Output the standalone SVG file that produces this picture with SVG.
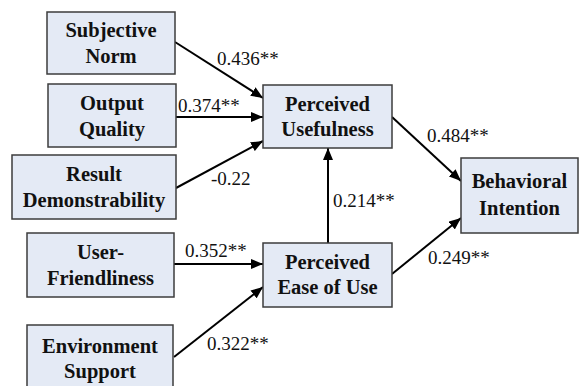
<svg xmlns="http://www.w3.org/2000/svg" width="579" height="386" viewBox="0 0 579 386">
<defs>
<marker id="ah" viewBox="0 0 12 10" refX="12" refY="5" markerWidth="12" markerHeight="10" markerUnits="userSpaceOnUse" orient="auto">
<path d="M0,0 L12,5 L0,10 Z" fill="#000"/>
</marker>
<style>
.box{fill:#e4eaf5;stroke:#3c3c3c;stroke-width:1.5}
.bt{font-family:"Liberation Serif","DejaVu Serif",serif;font-weight:bold;font-size:20.5px;text-anchor:middle;fill:#111}
.lb{font-family:"Liberation Serif","DejaVu Serif",serif;font-size:19px;fill:#111}
.ln{stroke:#000;stroke-width:2;fill:none;marker-end:url(#ah)}
</style>
</defs>
<rect width="579" height="386" fill="#fff"/>
<g id="connectors">
<line class="ln" x1="175" y1="42" x2="263" y2="98"/>
<line class="ln" x1="176" y1="117" x2="263" y2="117"/>
<line class="ln" x1="176" y1="188" x2="263" y2="141"/>
<line class="ln" x1="174" y1="264" x2="263" y2="264"/>
<line class="ln" x1="174" y1="357" x2="263" y2="287"/>
<line class="ln" x1="328" y1="243" x2="328" y2="148"/>
<line class="ln" x1="392" y1="117" x2="461" y2="181"/>
<line class="ln" x1="392" y1="274" x2="461" y2="218"/>
</g>
<g id="labels">
<text class="lb" x="217" y="65">0.436**</text>
<text class="lb" x="178" y="112">0.374**</text>
<text class="lb" x="211" y="185">-0.22</text>
<text class="lb" x="185" y="257">0.352**</text>
<text class="lb" x="207" y="350">0.322**</text>
<text class="lb" x="333" y="207">0.214**</text>
<text class="lb" x="427" y="142">0.484**</text>
<text class="lb" x="428" y="264">0.249**</text>
</g>
<g id="subjective-norm">
<rect class="box" x="47" y="12" width="128" height="62"/>
<text class="bt" x="111" y="37">Subjective</text>
<text class="bt" x="111" y="63">Norm</text>
</g>
<g id="output-quality">
<rect class="box" x="48" y="84" width="128" height="63"/>
<text class="bt" x="112" y="109.5">Output</text>
<text class="bt" x="112" y="135.5">Quality</text>
</g>
<g id="result-demonstrability">
<rect class="box" x="12" y="155" width="164" height="64"/>
<text class="bt" x="94" y="181">Result</text>
<text class="bt" x="94" y="207">Demonstrability</text>
</g>
<g id="user-friendliness">
<rect class="box" x="27" y="233" width="147" height="64"/>
<text class="bt" x="100.5" y="259">User-</text>
<text class="bt" x="100.5" y="285">Friendliness</text>
</g>
<g id="environment-support">
<rect class="box" x="27" y="325" width="146" height="64"/>
<text class="bt" x="100" y="353">Environment</text>
<text class="bt" x="100" y="378">Support</text>
</g>
<g id="perceived-usefulness">
<rect class="box" x="263" y="85" width="129" height="63"/>
<text class="bt" x="327.5" y="110.5">Perceived</text>
<text class="bt" x="327.5" y="136">Usefulness</text>
</g>
<g id="perceived-ease-of-use">
<rect class="box" x="263" y="243" width="129" height="64"/>
<text class="bt" x="327.5" y="268.5">Perceived</text>
<text class="bt" x="327.5" y="294">Ease of Use</text>
</g>
<g id="behavioral-intention">
<rect class="box" x="461" y="158" width="117" height="75"/>
<text class="bt" x="519.5" y="188">Behavioral</text>
<text class="bt" x="519.5" y="215">Intention</text>
</g>
</svg>
